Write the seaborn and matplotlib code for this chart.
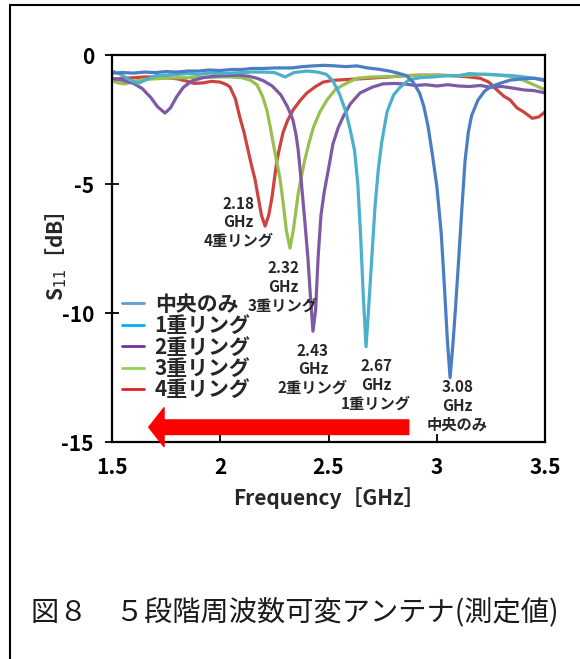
import numpy as np
import pandas as pd
import matplotlib
matplotlib.use("Agg")
import matplotlib.pyplot as plt
from matplotlib.lines import Line2D
import seaborn as sns

# --- data (GHz, dB) ---
series_names = ["中央のみ", "1重リング", "2重リング", "3重リング", "4重リング"]

f_center = [1.50, 1.55, 1.60, 1.65, 1.70, 1.75, 1.80, 1.85, 1.90, 1.95, 2.00, 2.05,
            2.10, 2.15, 2.20, 2.25, 2.29, 2.33, 2.38, 2.43, 2.48, 2.53, 2.58, 2.63,
            2.68, 2.73, 2.78, 2.82, 2.86, 2.89, 2.92, 2.94, 2.96, 2.98, 3.00, 3.02,
            3.035, 3.048, 3.061, 3.074, 3.086, 3.10, 3.115, 3.13, 3.145, 3.16, 3.19,
            3.22, 3.25, 3.29, 3.34, 3.40, 3.45, 3.50]
s_center = [-0.70, -0.68, -0.70, -0.66, -0.68, -0.64, -0.66, -0.62, -0.62, -0.58, -0.60, -0.56,
            -0.56, -0.52, -0.52, -0.50, -0.50, -0.50, -0.45, -0.42, -0.40, -0.42, -0.45, -0.42,
            -0.50, -0.55, -0.62, -0.70, -0.80, -1.05, -1.47, -2.0, -2.8, -3.9, -5.1, -6.9,
            -9.0, -11.0, -12.5, -11.2, -9.8, -8.0, -6.0, -4.1, -3.0, -2.35, -1.74,
            -1.40, -1.22, -1.10, -0.97, -0.92, -0.90, -1.00]

f_ring1 = [1.50, 1.54, 1.58, 1.62, 1.66, 1.70, 1.75, 1.80, 1.85, 1.90, 1.95, 2.00,
           2.05, 2.10, 2.15, 2.20, 2.25, 2.30, 2.34, 2.40, 2.45, 2.49, 2.52, 2.55,
           2.58, 2.60, 2.62, 2.635, 2.648, 2.66, 2.673, 2.685, 2.70, 2.715, 2.73, 2.745,
           2.77, 2.80, 2.83, 2.87, 2.92, 2.98, 3.05, 3.10, 3.15, 3.20, 3.25, 3.30,
           3.35, 3.40, 3.45, 3.50]
s_ring1 = [-0.62, -0.75, -0.95, -1.10, -0.95, -0.80, -0.78, -0.75, -0.72, -0.75, -0.70, -0.72,
           -0.70, -0.68, -0.66, -0.66, -0.68, -0.85, -0.68, -0.62, -0.66, -0.75, -1.0, -1.5,
           -2.2, -2.9, -3.7, -5.0, -7.0, -9.3, -11.3, -9.8, -7.8, -5.8, -4.4, -3.4,
           -2.2, -1.55, -1.25, -0.97, -0.88, -0.85, -0.80, -0.80, -0.72, -0.74, -0.75, -0.78,
           -0.80, -0.85, -0.90, -0.95]

f_ring2 = [1.50, 1.55, 1.60, 1.64, 1.68, 1.71, 1.745, 1.77, 1.80, 1.83, 1.87, 1.92,
           1.97, 2.02, 2.08, 2.13, 2.17, 2.20, 2.24, 2.28, 2.31, 2.335, 2.35, 2.36,
           2.375, 2.39, 2.405, 2.415, 2.428, 2.44, 2.452, 2.465, 2.48, 2.50, 2.52, 2.545,
           2.57, 2.60, 2.645, 2.70, 2.75, 2.80, 2.85, 2.90, 2.95, 3.00, 3.05, 3.10,
           3.15, 3.20, 3.25, 3.30, 3.35, 3.40, 3.45, 3.50]
s_ring2 = [-0.90, -0.98, -1.10, -1.30, -1.65, -2.00, -2.25, -2.05, -1.60, -1.25, -1.00, -0.88,
           -0.82, -0.80, -0.78, -0.82, -0.90, -1.00, -1.20, -1.55, -2.00, -2.50, -3.10, -3.70,
           -5.00, -6.40, -7.90, -9.20, -10.70, -9.90, -7.80, -6.20, -5.30, -4.40, -3.45, -2.80,
           -2.35, -1.90, -1.47, -1.25, -1.12, -1.10, -1.12, -1.18, -1.15, -1.20, -1.15, -1.20,
           -1.22, -1.18, -1.25, -1.22, -1.28, -1.35, -1.38, -1.47]

f_ring3 = [1.50, 1.53, 1.56, 1.60, 1.65, 1.70, 1.75, 1.80, 1.85, 1.90, 1.95, 2.00,
           2.05, 2.10, 2.14, 2.17, 2.195, 2.215, 2.23, 2.244, 2.26, 2.276, 2.29, 2.305,
           2.322, 2.337, 2.35, 2.36, 2.375, 2.39, 2.41, 2.43, 2.46, 2.493, 2.53, 2.567,
           2.63, 2.70, 2.78, 2.85, 2.92, 3.00, 3.08, 3.15, 3.22, 3.28, 3.33, 3.38,
           3.42, 3.46, 3.50]
s_ring3 = [-1.00, -1.08, -1.12, -1.02, -0.95, -0.92, -0.90, -0.88, -0.88, -0.86, -0.86, -0.85,
           -0.85, -0.88, -0.98, -1.16, -1.60, -2.13, -2.75, -3.40, -4.10, -4.80, -5.70, -6.80,
           -7.48, -6.80, -6.00, -5.35, -4.70, -4.07, -3.40, -2.80, -2.20, -1.74, -1.35, -1.16,
           -0.90, -0.85, -0.84, -0.80, -0.80, -0.78, -0.80, -0.78, -0.75, -0.78, -0.82, -0.90,
           -1.05, -1.20, -1.35]

f_ring4 = [1.50, 1.55, 1.60, 1.65, 1.70, 1.75, 1.80, 1.84, 1.88, 1.92, 1.96, 2.00,
           2.03, 2.045, 2.07, 2.09, 2.11, 2.128, 2.145, 2.16, 2.175, 2.19, 2.207, 2.224,
           2.239, 2.25, 2.262, 2.275, 2.29, 2.31, 2.336, 2.37, 2.40, 2.44, 2.475, 2.52,
           2.58, 2.65, 2.72, 2.78, 2.85, 2.92, 3.00, 3.08, 3.15, 3.20, 3.24, 3.278,
           3.31, 3.338, 3.37, 3.40, 3.44, 3.47, 3.50]
s_ring4 = [-0.95, -0.90, -0.88, -0.85, -0.85, -0.88, -0.92, -1.00, -1.10, -1.08, -1.02, -1.05,
           -1.15, -1.24, -1.70, -2.40, -3.00, -3.68, -4.30, -4.80, -5.50, -6.20, -6.63, -6.20,
           -5.50, -4.80, -4.07, -3.55, -3.00, -2.55, -2.13, -1.75, -1.47, -1.22, -1.05, -0.98,
           -0.95, -0.92, -0.88, -0.85, -0.80, -0.78, -0.78, -0.80, -0.85, -0.90, -1.05, -1.36,
           -1.60, -1.74, -2.05, -2.20, -2.45, -2.40, -2.20]

line_colors = ["#4a7ec4", "#4bb0cc", "#7e5aa6", "#98c04e", "#cc4440"]
legend_colors = ["#5b9bd5", "#00b0f0", "#7030a0", "#92d050", "#e02020"]

peak_labels = ["3.08\nGHz\n中央のみ", "2.67\nGHz\n1重リング", "2.43\nGHz\n2重リング",
               "2.32\nGHz\n3重リング", "2.18\nGHz\n4重リング"]
peak_label_x = [3.094, 2.72, 2.428, 2.29, 2.085]
peak_label_y = [-12.55, -11.75, -11.15, -7.95, -5.45]

x_ticks = [1.5, 2, 2.5, 3, 3.5]
x_tick_labels = ["1.5", "2", "2.5", "3", "3.5"]
y_ticks = [0, -5, -10, -15]

freqs = [f_center, f_ring1, f_ring2, f_ring3, f_ring4]
s11s = [s_center, s_ring1, s_ring2, s_ring3, s_ring4]
df = pd.concat([pd.DataFrame({"freq": f, "s11": s, "series": n})
                for f, s, n in zip(freqs, s11s, series_names)], ignore_index=True)

sns.set_theme(style="ticks")
plt.rcParams["font.family"] = ["Noto Sans CJK JP", "DejaVu Sans"]
plt.rcParams["axes.unicode_minus"] = False

fig = plt.figure(figsize=(5.8, 6.59), dpi=100)
ax = fig.add_axes([0.193, 0.329, 0.747, 0.5875])

# draw the red curve first so the blue one sits on top, like the original
draw_order = series_names[::-1]
sns.lineplot(data=df, x="freq", y="s11", hue="series", hue_order=draw_order,
             palette=dict(zip(series_names, line_colors)), estimator=None, sort=False,
             linewidth=2.3, legend=False, ax=ax)

ax.set_xlim(1.5, 3.5)
ax.set_ylim(-15, 0)
ax.set_xticks(x_ticks)
ax.set_xticklabels(x_tick_labels)
ax.set_yticks(y_ticks)
for lab in ax.get_xticklabels() + ax.get_yticklabels():
    lab.set_fontsize(15)
    lab.set_fontweight("bold")
ax.tick_params(axis="x", direction="in", length=6, width=1.3, pad=11, colors="black")
ax.tick_params(axis="y", direction="inout", length=10, width=1.3, pad=8, colors="black")
for sp in ax.spines.values():
    sp.set_linewidth(1.6)
    sp.set_color("black")

ax.set_xlabel("Frequency［GHz］", fontsize=15, fontweight="bold", labelpad=6)
ax.set_ylabel("S$_{11}$［dB］", fontsize=15, fontweight="bold")
ax.yaxis.set_label_coords(-0.1, 0.48)

for txt, x, y in zip(peak_labels, peak_label_x, peak_label_y):
    ax.text(x, y, txt, ha="center", va="top", fontsize=11, fontweight="bold",
            linespacing=1.2)

# big red arrow (frequency shift)
ax.annotate("", xy=(1.67, -14.42), xytext=(2.87, -14.42),
            arrowprops=dict(arrowstyle="simple,head_length=1.1,head_width=2.8,tail_width=1.05",
                            color="#ff0000", mutation_scale=10, shrinkA=0, shrinkB=0))

handles = [Line2D([], [], color=c, linewidth=2) for c in legend_colors]
leg = ax.legend(handles, series_names, loc="upper left", bbox_to_anchor=(0.005, 0.405),
                frameon=False, handlelength=1.05, handletextpad=0.5, labelspacing=0.02,
                borderaxespad=0, prop={"size": 15, "weight": "bold"})

# outer frame and caption
fig.add_artist(Line2D([10 / 580, 1.0], [1 - 5 / 659, 1 - 5 / 659], color="black", linewidth=1.5))
fig.add_artist(Line2D([10 / 580, 10 / 580], [0.0, 1 - 5 / 659], color="black", linewidth=1.5))
fig.text(0.508, 1 - 612 / 659, "図８　５段階周波数可変アンテナ(測定値)", ha="center", va="center",
         fontsize=20.3, color="#1a1a1a")

fig.savefig("out.png", dpi=100)
